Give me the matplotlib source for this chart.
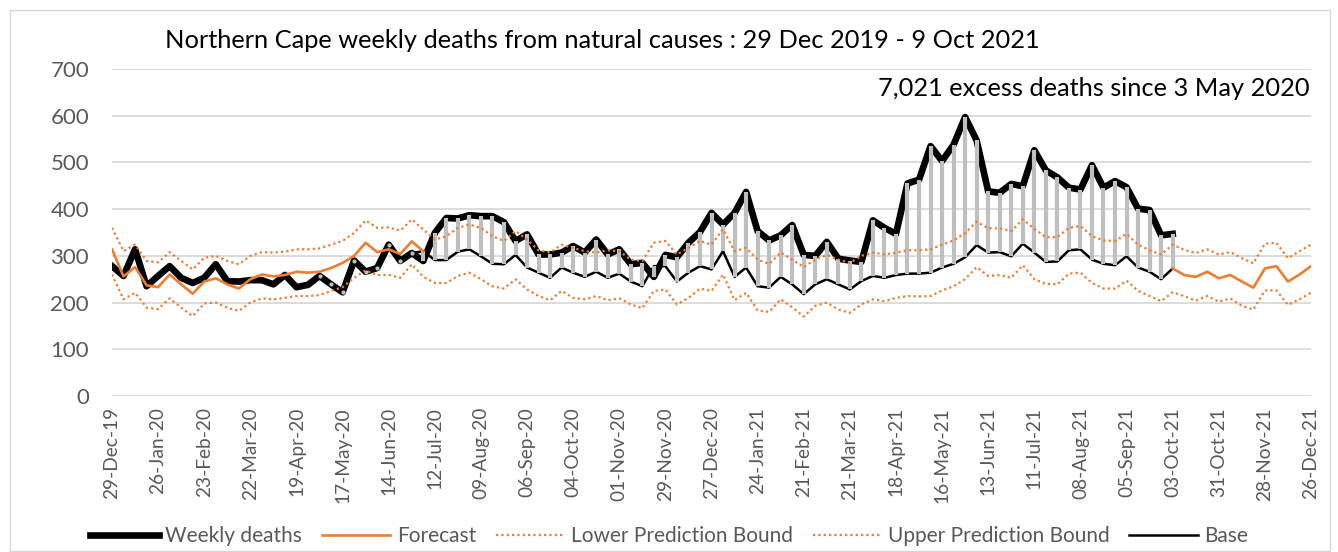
import numpy as np
import matplotlib
matplotlib.use("Agg")
import matplotlib.pyplot as plt
from matplotlib.patches import Rectangle
from matplotlib.lines import Line2D

plt.rcParams['font.family'] = ['Lato', 'DejaVu Sans']

# ---------------- data ----------------
tick_labels = ["29-Dec-19", "26-Jan-20", "23-Feb-20", "22-Mar-20", "19-Apr-20", "17-May-20",
               "14-Jun-20", "12-Jul-20", "09-Aug-20", "06-Sep-20", "04-Oct-20", "01-Nov-20",
               "29-Nov-20", "27-Dec-20", "24-Jan-21", "21-Feb-21", "21-Mar-21", "18-Apr-21",
               "16-May-21", "13-Jun-21", "11-Jul-21", "08-Aug-21", "05-Sep-21", "03-Oct-21",
               "31-Oct-21", "28-Nov-21", "26-Dec-21"]
n_weeks = 105

weekly_deaths = [278, 257, 314, 235, 257, 278, 253, 242, 253, 282,
                 246, 245, 248, 248, 239, 259, 233, 238, 257, 239,
                 222, 290, 266, 274, 324, 289, 306, 289, 349, 381,
                 380, 387, 385, 385, 372, 332, 346, 303, 303, 307,
                 321, 307, 335, 303, 314, 282, 285, 255, 302, 297,
                 328, 351, 392, 367, 392, 437, 353, 333, 344, 366,
                 302, 300, 330, 294, 290, 287, 376, 360, 347, 455,
                 463, 535, 503, 538, 597, 547, 438, 435, 454, 449,
                 526, 483, 468, 446, 442, 494, 446, 460, 447, 401,
                 398, 344, 347]

base_start = 18
base = [257, 239, 222, 290, 266, 274, 324, 289, 306, 310,
        291, 291, 309, 314, 299, 283, 282, 302, 275, 264,
        253, 275, 264, 255, 266, 253, 262, 245, 235, 278,
        278, 245, 264, 278, 271, 310, 255, 275, 235, 232,
        255, 239, 218, 239, 250, 239, 228, 246, 257, 253,
        259, 262, 262, 264, 275, 283, 297, 323, 307, 308,
        299, 326, 307, 287, 288, 312, 314, 292, 283, 280,
        299, 275, 266, 250, 273]

forecast_early = [314, 256, 276, 237, 233, 260, 239, 219, 245, 252,
                  239, 230, 250, 260, 256, 259, 266, 264, 266, 274,
                  285, 300, 328, 308, 314, 304, 331, 310]
forecast_late_start = 92
forecast_late = [273, 259, 255, 266, 252, 259, 245, 232, 273, 278, 245, 260, 278]

upper_bound = [360, 310, 324, 289, 286, 308, 289, 271, 296, 300,
               289, 282, 300, 308, 307, 309, 314, 314, 316, 324,
               332, 349, 376, 360, 361, 354, 378, 356, 335, 342,
               360, 367, 360, 342, 332, 353, 335, 312, 307, 324,
               317, 310, 307, 312, 310, 292, 289, 328, 332, 303,
               317, 332, 324, 357, 310, 317, 292, 283, 307, 292,
               276, 292, 302, 292, 285, 300, 307, 303, 307, 312,
               312, 314, 324, 333, 349, 373, 359, 359, 353, 378,
               358, 340, 340, 360, 364, 342, 333, 332, 347, 324,
               312, 303, 324, 313, 306, 314, 303, 308, 295, 284,
               326, 328, 295, 310, 324]

lower_bound = [260, 207, 221, 189, 186, 209, 189, 171, 198, 200,
               189, 182, 200, 209, 207, 210, 214, 214, 216, 225,
               233, 253, 269, 259, 259, 253, 282, 255, 242, 242,
               257, 264, 250, 235, 230, 250, 228, 214, 205, 225,
               210, 207, 214, 205, 209, 196, 188, 225, 228, 196,
               210, 230, 225, 260, 205, 221, 183, 180, 207, 190,
               170, 193, 200, 185, 178, 196, 207, 203, 210, 214,
               213, 214, 226, 235, 250, 276, 257, 259, 253, 280,
               250, 240, 239, 262, 264, 242, 230, 230, 247, 225,
               214, 203, 222, 214, 204, 214, 202, 209, 193, 185,
               226, 226, 195, 207, 221]

title = "Northern Cape weekly deaths from natural causes : 29 Dec 2019 - 9 Oct 2021"
note = "7,021 excess deaths since 3 May 2020"

# ---------------- figure ----------------
W, H = 1338, 552
fig = plt.figure(figsize=(W / 100, H / 100), dpi=100)
ax = fig.add_axes([112 / W, 1 - 396 / H, 1199 / W, 327 / H])

x_week = np.arange(len(weekly_deaths))
x_base = np.arange(base_start, base_start + len(base))
x_fe = np.arange(len(forecast_early))
x_fl = np.arange(forecast_late_start, forecast_late_start + len(forecast_late))
x_all = np.arange(n_weeks)

orange = '#ED7D31'
grey_bar = '#BFBFBF'

ax.plot(x_week, weekly_deaths, color='black', lw=4.8, solid_joinstyle='round', zorder=3)
ax.plot(x_base, base, color='black', lw=1.8, zorder=4)

wk = np.array(weekly_deaths)[x_base]
bs = np.array(base)
diff = wk != bs
ax.vlines(x_base[diff], np.minimum(wk, bs)[diff], np.maximum(wk, bs)[diff],
          color=grey_bar, lw=3.0, zorder=5)
ax.scatter(x_base[~diff], wk[~diff], s=9, color=grey_bar, zorder=5, linewidths=0)

ax.plot(x_fe, forecast_early, color=orange, lw=1.9, zorder=6)
ax.plot(x_fl, forecast_late, color=orange, lw=1.9, zorder=6)
ax.plot(x_all, lower_bound, color=orange, lw=1.6, ls=(0, (1, 1.4)), zorder=7)
ax.plot(x_all, upper_bound, color=orange, lw=1.6, ls=(0, (1, 1.4)), zorder=7)

ax.set_xlim(0, n_weeks - 1)
ax.set_ylim(0, 700)
ax.set_yticks(np.arange(0, 701, 100))
ax.set_xticks(np.arange(0, n_weeks, 4))
ax.set_xticklabels(tick_labels, rotation=90)
ax.tick_params(axis='x', length=0, pad=8, labelsize=13.8, labelcolor='#595959')
ax.tick_params(axis='y', length=0, pad=16.5, labelsize=16, labelcolor='#595959')
ax.grid(axis='y', color='#D9D9D9', lw=1.3)
ax.set_axisbelow(True)
for s in ax.spines.values():
    s.set_visible(False)

fig.text(165 / W, 1 - 40 / H, title, fontsize=18.3, color='black', ha='left', va='center')
fig.text(1310 / W, 1 - 88 / H, note, fontsize=18.3, color='black', ha='right', va='center')

handles = [
    Line2D([], [], color='black', lw=4.8),
    Line2D([], [], color=orange, lw=1.9),
    Line2D([], [], color=orange, lw=1.6, ls=(0, (1, 1.4))),
    Line2D([], [], color=orange, lw=1.6, ls=(0, (1, 1.4))),
    Line2D([], [], color='black', lw=1.8),
]
labels = ["Weekly deaths", "Forecast", "Lower Prediction Bound", "Upper Prediction Bound", "Base"]
fig.legend(handles, labels, loc='center', bbox_to_anchor=(0.5, 1 - 536 / H), ncol=5,
           frameon=False, fontsize=15, labelcolor='#595959', handlelength=3.3,
           columnspacing=0.95, handletextpad=0.3)

fig.patches.append(Rectangle((10 / W, 1 / H), 1320 / W, 541 / H, transform=fig.transFigure,
                             fill=False, edgecolor='#D9D9D9', lw=1.0))

fig.savefig('out.png', dpi=100)
